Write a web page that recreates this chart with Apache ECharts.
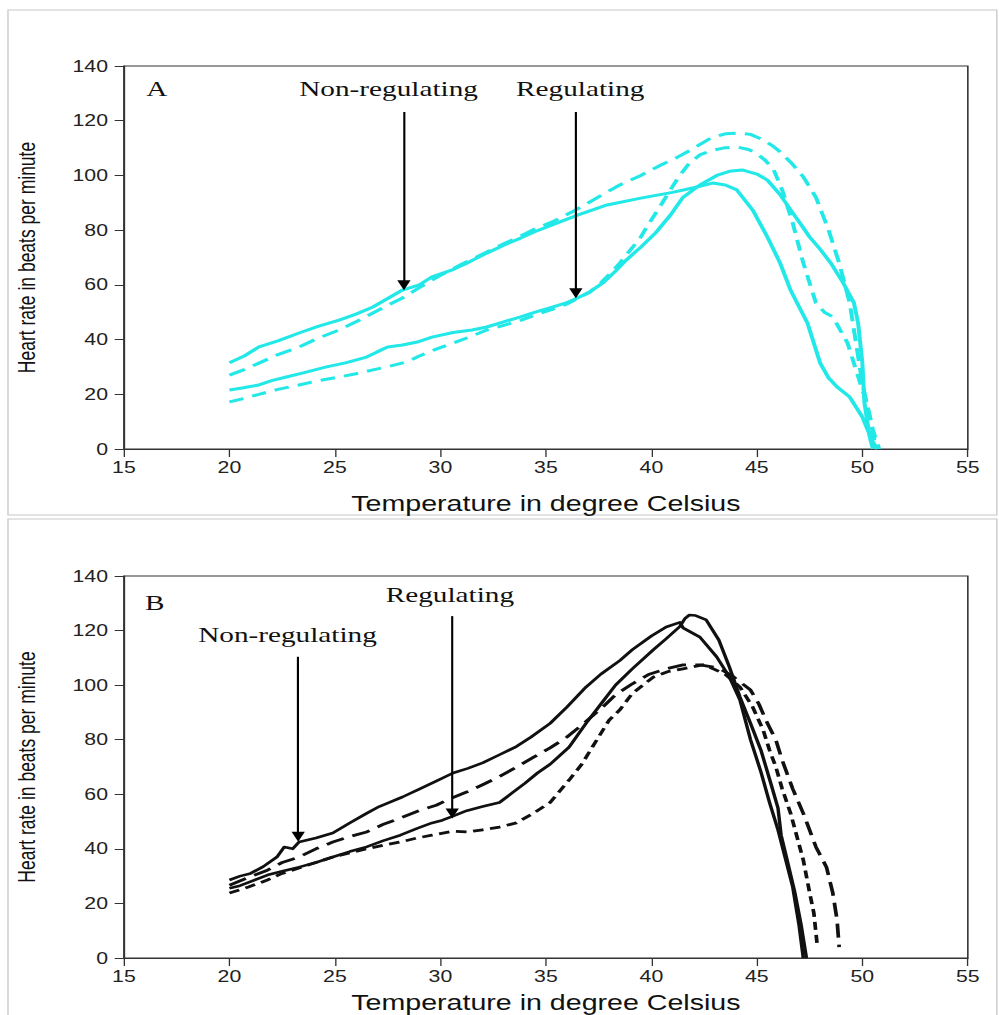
<!DOCTYPE html>
<html><head><meta charset="utf-8">
<script src="https://cdn.jsdelivr.net/npm/echarts@6/dist/echarts.min.js"></script>
<style>
html,body{margin:0;padding:0;background:#fff;overflow:hidden;}
#chart{width:751px;height:1015px;transform:scaleX(1.33);transform-origin:0 0;}
</style></head><body><div id="chart"></div>
<script>
// ---------- data ----------
const xTicks = [15, 20, 25, 30, 35, 40, 45, 50, 55];
const yTicks = [0, 20, 40, 60, 80, 100, 120, 140];

// Panel A (cyan)
const aNonRegSolid = [[20,31.5],[20.7,34],[21.4,37.3],[22.3,39.5],[23.3,42.4],[24.2,44.8],[25.2,47.1],[26,49.3],[26.8,51.9],[27.5,55],[28.2,58.1],[29,60],[29.6,62.9],[30.6,65.6],[31.4,68.5],[32.2,71.6],[33,74.5],[33.8,77.1],[34.5,79.5],[35.3,81.9],[36.5,85.5],[37.9,89.2],[39.5,91.7],[41,93.8],[42,95.5],[42.9,97.2],[43.5,96.5],[44.05,94.7],[44.8,87.4],[45.5,77.5],[46.1,68],[46.6,58],[47,52],[47.4,46],[48,31.4],[48.4,26],[48.8,22.7],[49.4,19],[50,11.7],[50.45,3.3],[50.7,0]];
const aNonRegDash = [[20,27],[20.7,29],[21.4,31.4],[22.3,34.5],[23.3,37.3],[24.2,40.5],[25.2,43.5],[26,46.5],[26.8,49.7],[27.5,52.5],[28.2,55.2],[29,59],[30,63.5],[31,67.5],[32.2,72],[33,75],[33.8,77.8],[34.5,80.5],[35.3,83],[36.2,86.5],[37,89.9],[37.8,93.5],[38.5,96.5],[39.5,100],[40.5,104],[41.2,106.5],[41.8,109],[42.8,113.6],[43.5,115.2],[44.2,115.5],[44.7,115],[45.3,113],[45.8,110.5],[46.2,108],[46.7,104],[47.2,99.5],[47.8,92],[48.4,80],[48.9,68],[49.4,53.4],[49.7,38.7],[50,24],[50.36,11.7],[50.6,2],[50.7,0]];
const aRegSolid = [[20,21.6],[20.6,22.3],[21.4,23.4],[22,25],[22.7,26.3],[23.5,27.8],[24.6,30],[25.5,31.5],[26.5,33.6],[27,35.5],[27.5,37.3],[28.2,38],[28.9,39.1],[29.6,40.9],[30.6,42.6],[31.5,43.5],[32.2,44.6],[33,46.5],[33.8,48.3],[34.5,50],[35.3,51.9],[36,53.5],[36.5,55.2],[37.1,57.5],[37.7,60.7],[38.3,65],[38.8,69],[39.5,73.8],[40.2,79],[40.9,85.5],[41.5,92],[42.3,96.5],[43.1,100],[43.7,101.5],[44.3,102],[45,100.5],[45.5,98.3],[46.1,93],[46.6,87.4],[47.1,82],[47.5,77.5],[48,73],[48.5,68],[49.1,60.6],[49.6,53.4],[49.8,46],[50,31.4],[50.1,16.8],[50.35,4.4],[50.5,0]];
const aRegDash = [[20,17.2],[20.7,18.5],[21.4,20],[22.3,21.8],[23.3,23.4],[24.2,25],[25.2,26.3],[26,27.5],[26.8,28.9],[27.6,30.3],[28.4,31.8],[29,34],[29.8,36.5],[30.6,38.7],[31.4,41],[32.2,43.5],[33,45.2],[33.8,47],[34.5,49],[35.3,51],[36,53],[36.5,55],[37.1,57.5],[37.6,60.7],[38.1,64.5],[38.5,68],[39,72.7],[39.5,77.5],[39.9,82.6],[40.4,88.5],[40.9,94.7],[41.3,99.5],[41.8,104.5],[42.3,107.5],[42.8,109],[43.4,110],[44.05,110.4],[44.6,109.5],[45,108],[45.4,105.5],[45.8,102],[46.2,94.7],[46.7,82.6],[47.2,68],[47.8,53.4],[48.2,50],[48.6,48.3],[49.3,38.7],[49.7,28.9],[50.2,16.8],[50.5,7],[50.8,0]];

// Panel B (black)
const bNonRegSolid = [[20,28.6],[20.5,30],[21,31],[21.6,33.5],[22.25,37],[22.6,40.7],[23,40],[23.3,42.5],[24.1,44],[24.9,45.8],[25.7,49.5],[26.5,53],[27.1,55.5],[27.5,56.8],[28.2,59],[29,61.9],[29.8,64.8],[30.6,67.8],[31.3,69.5],[32,71.5],[32.8,74.5],[33.6,77.5],[34.3,81],[35.2,86],[36,92],[36.9,99.3],[37.6,104],[38.5,109],[39.1,113],[40,118],[40.7,121.3],[41.35,123],[41.5,121],[42.3,117.6],[43.1,110.3],[43.7,103],[44.2,94.5],[44.7,80],[45.2,68],[45.6,57],[46,47],[46.3,38],[46.7,26],[47,12],[47.2,0]];
const bRegSolid = [[20,25.6],[20.5,26.5],[21,28],[21.8,30.4],[22.5,31.8],[23.3,33.3],[24.1,35],[24.9,37],[25.7,39],[26.5,40.7],[27.3,43],[28.1,45],[28.9,47.5],[29.6,49.5],[30.1,50.5],[30.6,52],[31.25,54],[32,55.5],[32.8,57],[33.4,60.5],[34,64],[34.6,67.8],[35.2,71],[36.1,77.3],[36.9,86],[37.6,93],[38.3,100],[39.1,106],[40.1,113],[40.7,117],[41.35,121.5],[41.6,124.5],[41.8,125.7],[42.1,125.5],[42.6,123.9],[43.2,116.5],[43.7,106.6],[44.2,95.6],[44.7,86],[45.2,76],[45.7,63],[46,55],[46.15,45],[46.4,37],[46.8,24],[47.1,12],[47.35,0]];
const bNonRegDash = [[20,26.7],[20.9,29.5],[21.8,32.2],[22.5,35],[23.3,37],[24.1,40],[24.9,42.5],[25.7,44.5],[26.5,46.2],[27.3,49],[28.1,51.3],[29,54],[29.8,56],[30.5,58.5],[31.3,61],[32,63.5],[32.8,66.5],[33.5,69.5],[34.4,73.5],[35.2,77],[36,81],[36.8,86],[37.7,92],[38.3,96.5],[39.1,100.5],[39.9,104],[40.7,106],[41.5,107.4],[42.3,107.4],[43.2,106.3],[43.9,103],[44.7,98.2],[45.1,93],[45.5,86],[45.9,79.9],[46.2,72.5],[46.7,62],[47.2,53],[47.8,40.7],[48.3,33.3],[48.6,23.8],[48.8,14],[48.9,4]];
const bRegDash = [[20,23.8],[20.9,26],[21.8,28.6],[22.5,31],[23.3,33],[24.1,35],[24.9,37],[25.7,38.5],[26.5,40],[27.3,41.3],[28.1,42.5],[28.9,44],[29.6,45],[30.6,46.5],[31.3,46.2],[32,47],[32.8,48],[33.6,49.5],[34.4,53],[35.2,57],[36.1,65.2],[36.7,71],[37.2,77.3],[38,87.2],[38.5,90.9],[39.1,97],[40.1,103],[40.8,105],[41.5,106],[42.5,107.5],[43.5,104],[44.2,99.3],[44.8,92],[45.3,83.5],[45.6,76.2],[45.9,70],[46.2,62],[46.6,53],[47.2,35.9],[47.5,24],[47.7,16.5],[47.85,5.5]];

// Annotation arrows: [x, top, tip] in data units
const aArrows = [[28.27, 123.2, 59.9], [36.42, 123.2, 56.9]];
const bArrows = [[23.26, 110.4, 44.4], [30.56, 125.3, 53.0]];

// ---------- chart ----------
const chart = echarts.init(document.getElementById('chart'), null, {renderer: 'svg'});
const CYAN = '#22e8e8';
const gridsPx = [{top: 66, height: 383, nameGap: 43}, {top: 576, height: 382, nameGap: 33}];

function xAx(i) {
  return {
    gridIndex: i, type: 'value', min: xTicks[0], max: xTicks[xTicks.length - 1], interval: 5,
    name: 'Temperature in degree Celsius', nameLocation: 'middle', nameGap: gridsPx[i].nameGap,
    nameTextStyle: {fontFamily: 'Liberation Sans', fontSize: 21.5, color: '#111'},
    axisLine: {show: true, onZero: false, lineStyle: {color: '#333', width: 1.2}},
    axisTick: {show: true, inside: false, length: 8, lineStyle: {color: '#333'}},
    axisLabel: {fontFamily: 'Liberation Sans', fontSize: 16, color: '#222', margin: 10},
    splitLine: {show: false}
  };
}
function yAx(i) {
  return {
    gridIndex: i, type: 'value', min: yTicks[0], max: yTicks[yTicks.length - 1], interval: 20,
    name: 'Heart rate in beats per minute', nameLocation: 'middle', nameGap: 64, nameRotate: 90,
    nameTextStyle: {fontFamily: 'Liberation Sans', fontSize: 17.5, color: '#111'},
    axisLine: {show: true, lineStyle: {color: '#333', width: 1.2}},
    axisTick: {show: true, inside: false, length: 7, lineStyle: {color: '#333'}},
    axisLabel: {fontFamily: 'Liberation Sans', fontSize: 16, color: '#222', margin: 12},
    splitLine: {show: false}
  };
}
function arrowMark(arr) {
  return {
    silent: true, symbol: ['none', 'triangle'], symbolSize: 10,
    lineStyle: {color: '#000', width: 1.6, type: 'solid'},
    itemStyle: {color: '#000'},
    label: {show: false}, emphasis: {disabled: true},
    data: arr.map(a => [{coord: [a[0], a[1]]}, {coord: [a[0], a[2]]}])
  };
}
function ser(data, gi, color, width, dash, mark) {
  const s = {
    type: 'line', data: data, xAxisIndex: gi, yAxisIndex: gi,
    showSymbol: false, symbol: 'none', smooth: false, silent: true,
    lineStyle: {color: color, width: width, type: dash || 'solid', cap: 'butt', join: 'round'},
    emphasis: {disabled: true}, z: 2
  };
  if (mark) s.markLine = mark;
  return s;
}
function txt(x, y, t, size) {
  return {type: 'text', x: x, y: y, silent: true, z: 10,
    style: {text: t, fill: '#111', font: size + 'px "Liberation Serif"', verticalAlign: 'middle', align: 'left'}};
}

chart.setOption({
  animation: false,
  backgroundColor: '#fff',
  grid: gridsPx.map(g => ({left: 93.2, right: 23.3, top: g.top, height: g.height, show: true, borderColor: '#333', borderWidth: 1.2, backgroundColor: 'transparent', containLabel: false, outerBoundsMode: 'none'})),
  xAxis: [xAx(0), xAx(1)],
  yAxis: [yAx(0), yAx(1)],
  series: [
    ser(aNonRegSolid, 0, CYAN, 3, 'solid', arrowMark(aArrows)),
    ser(aNonRegDash, 0, CYAN, 3, [13, 7]),
    ser(aRegSolid, 0, CYAN, 3, 'solid'),
    ser(aRegDash, 0, CYAN, 3, [11, 7]),
    ser(bNonRegSolid, 1, '#111', 2.6, 'solid', arrowMark(bArrows)),
    ser(bRegSolid, 1, '#111', 2.6, 'solid'),
    ser(bNonRegDash, 1, '#111', 2.8, [14, 7]),
    ser(bRegDash, 1, '#111', 2.8, [8, 5])
  ],
  graphic: [
    {type: 'rect', silent: true, z: -1, shape: {x: 6, y: 10, width: 743.5, height: 505}, style: {fill: 'none', stroke: '#c8c8c8', lineWidth: 1}},
    {type: 'rect', silent: true, z: -1, shape: {x: 6, y: 519, width: 743.5, height: 510}, style: {fill: 'none', stroke: '#c8c8c8', lineWidth: 1}},
    txt(110, 89, 'A', 22),
    txt(225, 89, 'Non-regulating', 22),
    txt(388, 89, 'Regulating', 22),
    txt(109, 603, 'B', 22),
    txt(290, 595, 'Regulating', 22),
    txt(149, 635, 'Non-regulating', 22)
  ]
});
</script></body></html>
